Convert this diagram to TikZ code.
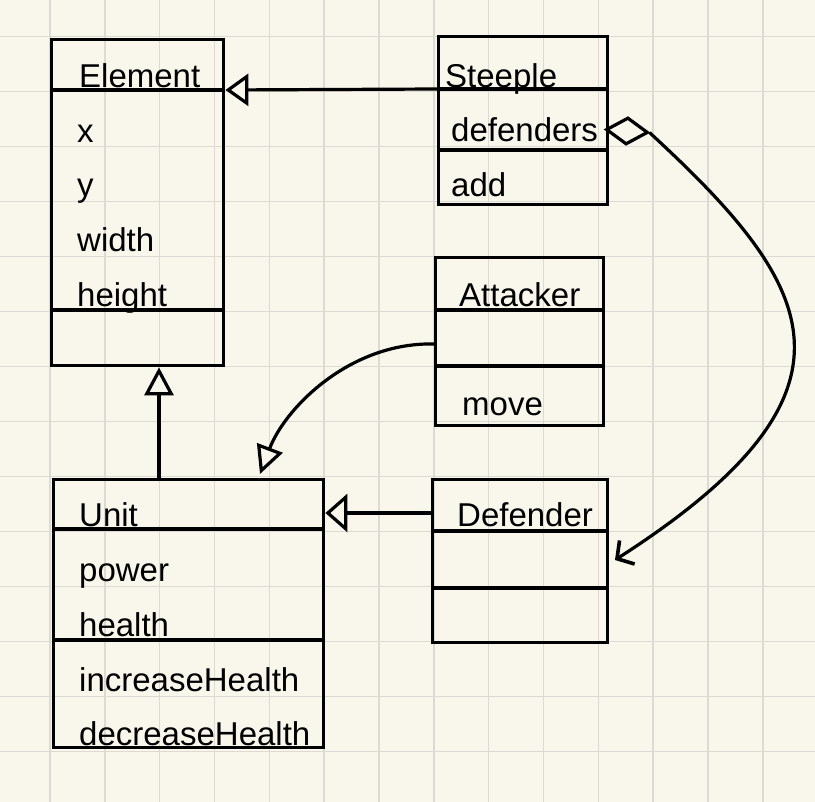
\documentclass[tikz,border=0pt]{standalone}
\usepackage{fontspec}
\setmainfont{Liberation Sans}
\usetikzlibrary{arrows.meta,shapes.geometric}
\definecolor{paper}{RGB}{249,246,236}
\definecolor{gridc}{RGB}{221,218,211}
\tikzset{
  umlbox/.style={draw=black, line width=3.4pt, anchor=north west, inner sep=0pt, fill=none},
  lbl/.style={anchor=base west, inner sep=0pt, font=\fontsize{33}{34}\selectfont, text=black},
  divider/.style={line width=3.4pt, draw=black},
  conn/.style={line width=3.2pt, draw=black},
  gridline/.style={draw=gridc, line width=1.6pt},
}
\begin{document}
\begin{tikzpicture}[x=1pt,y=-1pt]
\useasboundingbox (0,0) rectangle (815,802);
\fill[paper] (0,0) rectangle (815,802);
% grid
\foreach \k in {0,...,13} {
  \draw[gridline] (50+54.83*\k,0) -- (50+54.83*\k,802);
}
\foreach \k in {0,...,13} {
  \draw[gridline] (0,36.5+55*\k) -- (815,36.5+55*\k);
}
% boxes
\node[umlbox, minimum width=172pt, minimum height=326pt] (element) at (50,38) {};
\node[umlbox, minimum width=169pt, minimum height=168pt] (steeple) at (437,35) {};
\node[umlbox, minimum width=168pt, minimum height=168pt] (attacker) at (434,256) {};
\node[umlbox, minimum width=175pt, minimum height=163pt] (defender) at (431,478) {};
\node[umlbox, minimum width=270pt, minimum height=268pt] (unit) at (52,478) {};
% dividers
\draw[divider] (element.west |- 0,90) -- (element.east |- 0,90);
\draw[divider] (element.west |- 0,310) -- (element.east |- 0,310);
\draw[divider] (steeple.west |- 0,89) -- (steeple.east |- 0,89);
\draw[divider] (steeple.west |- 0,150) -- (steeple.east |- 0,150);
\draw[divider] (attacker.west |- 0,310) -- (attacker.east |- 0,310);
\draw[divider] (attacker.west |- 0,366) -- (attacker.east |- 0,366);
\draw[divider] (defender.west |- 0,531) -- (defender.east |- 0,531);
\draw[divider] (defender.west |- 0,588) -- (defender.east |- 0,588);
\draw[divider] (unit.west |- 0,529) -- (unit.east |- 0,529);
\draw[divider] (unit.west |- 0,640) -- (unit.east |- 0,640);
% labels
\node[lbl] (tElement) at (79,88) {Element};
\node[lbl] (tx) at (77,143) {x};
\node[lbl] (ty) at (77,197) {y};
\node[lbl] (twidth) at (77,252) {width};
\node[lbl] (theight) at (77,307) {height};
\node[lbl] (tSteeple) at (445,88) {Steeple};
\node[lbl] (tdefenders) at (451,142) {defenders};
\node[lbl] (tadd) at (451,197) {add};
\node[lbl] (tAttacker) at (459,307) {Attacker};
\node[lbl] (tmove) at (462,416) {move};
\node[lbl] (tDefender) at (457,527) {Defender};
\node[lbl] (tUnit) at (79,527) {Unit};
\node[lbl] (tpower) at (79,581) {power};
\node[lbl] (thealth) at (79,636) {health};
\node[lbl] (tinc) at (79,691) {increaseHealth};
\node[lbl] (tdec) at (79,745) {decreaseHealth};
% connection points
\coordinate (steepleL) at (steeple.west |- 0,89);
\coordinate (elementR) at (element.east |- 0,90);
\coordinate (unitT) at (unit.north -| 159,0);
\coordinate (elementB) at (element.south -| 159,0);
\coordinate (defL) at (defender.west |- 0,513);
\coordinate (unitR) at (unit.east |- 0,513);
\coordinate (attL) at (attacker.west |- 0,344);
\coordinate (unitTop) at (260,474);
\coordinate (defR) at (615,560);
% diamond
\node[diamond, draw=black, line width=3.2pt, fill=paper, inner sep=0pt,
      minimum width=42pt, minimum height=27pt, aspect=1.5, rotate=-4] (dia) at (627,131) {};
% connectors
\draw[conn, -{Triangle[open, length=23pt, width=32pt, fill=paper]}] (steepleL) -- (elementR);
\draw[conn, -{Triangle[open, length=28pt, width=29pt, fill=paper]}] (unitT) -- (elementB);
\draw[conn, -{Triangle[open, length=22pt, width=38pt, fill=paper]}] (defL) -- (unitR);
\draw[conn, -{Triangle[open, length=28pt, width=27pt, fill=paper]}] (attL) .. controls (350,342) and (285,408) .. (unitTop);
\draw[conn, -{Straight Barb[length=12pt, width=28pt, line width=3.6pt]}] (dia.east) .. controls (815,285) and (880,390) .. (defR);
\end{tikzpicture}
\end{document}
